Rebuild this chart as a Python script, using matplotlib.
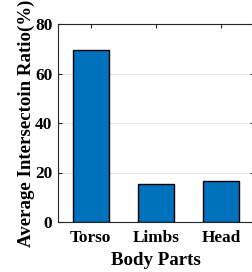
import matplotlib
matplotlib.use("Agg")
import matplotlib.pyplot as plt

categories = ["Torso", "Limbs", "Head"]
values = [69.3, 15.3, 16.5]
yticks = [0, 20, 40, 60, 80]

plt.rcParams['font.family'] = ['Liberation Serif', 'DejaVu Serif']
plt.rcParams['font.weight'] = 'bold'

fig = plt.figure(figsize=(2.52, 2.72), dpi=100)
W, H = 252, 272
left, right, top, bottom = 58, 253.5, 24, 222
ax = fig.add_axes([left / W, 1 - bottom / H, (right - left) / W, (bottom - top) / H])

x = list(range(1, len(categories) + 1))
ax.bar(x, values, width=0.55, color='#0072BD', edgecolor='black', linewidth=1.0, zorder=3)
ax.set_xlim(0.5, 3.5)
ax.set_ylim(0, 80)
ax.set_xticks(x)
ax.set_xticklabels(categories)
ax.set_yticks(yticks)
ax.yaxis.grid(True, color='#e6e6e6', linewidth=0.8, zorder=0)
ax.set_axisbelow(True)
ax.tick_params(direction='in', length=3, width=0.8, top=True, right=True,
               labelsize=12.4, colors='#262626', labelcolor='black', pad=4)
ax.tick_params(axis='x', pad=6)
for s in ax.spines.values():
    s.set_color('#262626')
    s.set_linewidth(0.8)
ax.set_xlabel("Body Parts", fontsize=13.6, fontweight='bold', labelpad=4)
ax.set_ylabel("Average Intersectoin Ratio(%)", fontsize=13.6, fontweight='bold', labelpad=0)
fig.savefig("out.png", dpi=100)
